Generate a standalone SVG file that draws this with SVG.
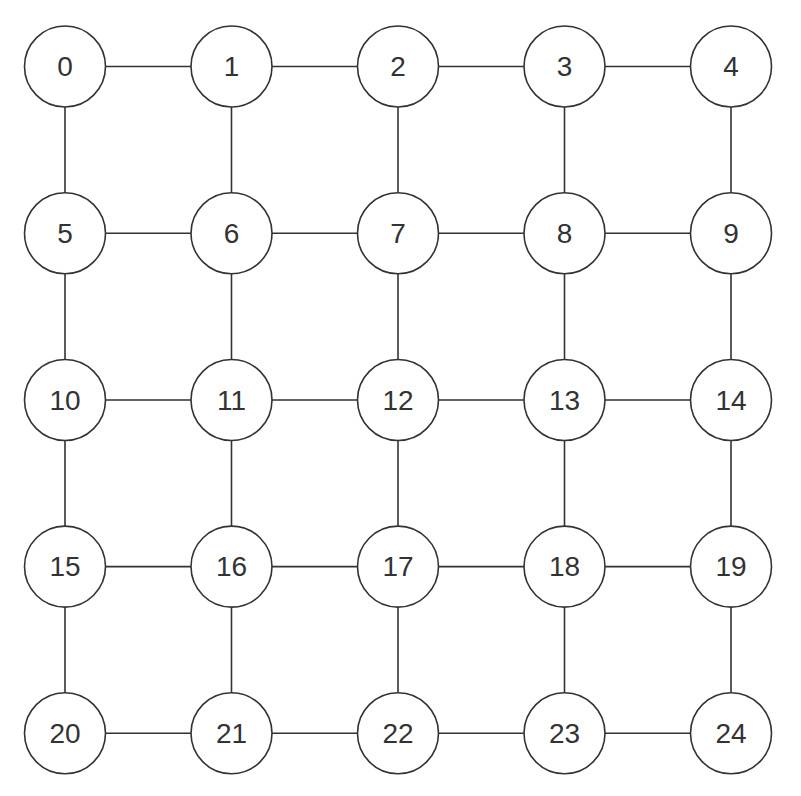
<svg xmlns="http://www.w3.org/2000/svg" width="801" height="796" viewBox="0 0 801 796">
<style>
.e{stroke:#333;stroke-width:1.6;fill:none}
.n circle{fill:#fff;stroke:#333;stroke-width:1.6}
.n text{font-family:"Liberation Sans",Arial,sans-serif;font-size:28px;fill:#333;text-anchor:middle;dominant-baseline:central}
</style>
<rect width="801" height="796" fill="#fff"/>
<g id="connectors" class="e">
<path d="M65 66.5H731M65 233.2H731M65 400H731M65 566.6H731M65 733.3H731"/>
<path d="M65 66.5V733.3M231.5 66.5V733.3M398 66.5V733.3M564.5 66.5V733.3M731 66.5V733.3"/>
</g>
<g id="n0" class="n"><circle cx="65" cy="66.5" r="40.5"/><text x="65" y="66.5">0</text></g>
<g id="n1" class="n"><circle cx="231.5" cy="66.5" r="40.5"/><text x="231.5" y="66.5">1</text></g>
<g id="n2" class="n"><circle cx="398" cy="66.5" r="40.5"/><text x="398" y="66.5">2</text></g>
<g id="n3" class="n"><circle cx="564.5" cy="66.5" r="40.5"/><text x="564.5" y="66.5">3</text></g>
<g id="n4" class="n"><circle cx="731" cy="66.5" r="40.5"/><text x="731" y="66.5">4</text></g>
<g id="n5" class="n"><circle cx="65" cy="233.2" r="40.5"/><text x="65" y="233.2">5</text></g>
<g id="n6" class="n"><circle cx="231.5" cy="233.2" r="40.5"/><text x="231.5" y="233.2">6</text></g>
<g id="n7" class="n"><circle cx="398" cy="233.2" r="40.5"/><text x="398" y="233.2">7</text></g>
<g id="n8" class="n"><circle cx="564.5" cy="233.2" r="40.5"/><text x="564.5" y="233.2">8</text></g>
<g id="n9" class="n"><circle cx="731" cy="233.2" r="40.5"/><text x="731" y="233.2">9</text></g>
<g id="n10" class="n"><circle cx="65" cy="400" r="40.5"/><text x="65" y="400">10</text></g>
<g id="n11" class="n"><circle cx="231.5" cy="400" r="40.5"/><text x="231.5" y="400">11</text></g>
<g id="n12" class="n"><circle cx="398" cy="400" r="40.5"/><text x="398" y="400">12</text></g>
<g id="n13" class="n"><circle cx="564.5" cy="400" r="40.5"/><text x="564.5" y="400">13</text></g>
<g id="n14" class="n"><circle cx="731" cy="400" r="40.5"/><text x="731" y="400">14</text></g>
<g id="n15" class="n"><circle cx="65" cy="566.6" r="40.5"/><text x="65" y="566.6">15</text></g>
<g id="n16" class="n"><circle cx="231.5" cy="566.6" r="40.5"/><text x="231.5" y="566.6">16</text></g>
<g id="n17" class="n"><circle cx="398" cy="566.6" r="40.5"/><text x="398" y="566.6">17</text></g>
<g id="n18" class="n"><circle cx="564.5" cy="566.6" r="40.5"/><text x="564.5" y="566.6">18</text></g>
<g id="n19" class="n"><circle cx="731" cy="566.6" r="40.5"/><text x="731" y="566.6">19</text></g>
<g id="n20" class="n"><circle cx="65" cy="733.3" r="40.5"/><text x="65" y="733.3">20</text></g>
<g id="n21" class="n"><circle cx="231.5" cy="733.3" r="40.5"/><text x="231.5" y="733.3">21</text></g>
<g id="n22" class="n"><circle cx="398" cy="733.3" r="40.5"/><text x="398" y="733.3">22</text></g>
<g id="n23" class="n"><circle cx="564.5" cy="733.3" r="40.5"/><text x="564.5" y="733.3">23</text></g>
<g id="n24" class="n"><circle cx="731" cy="733.3" r="40.5"/><text x="731" y="733.3">24</text></g>
</svg>
